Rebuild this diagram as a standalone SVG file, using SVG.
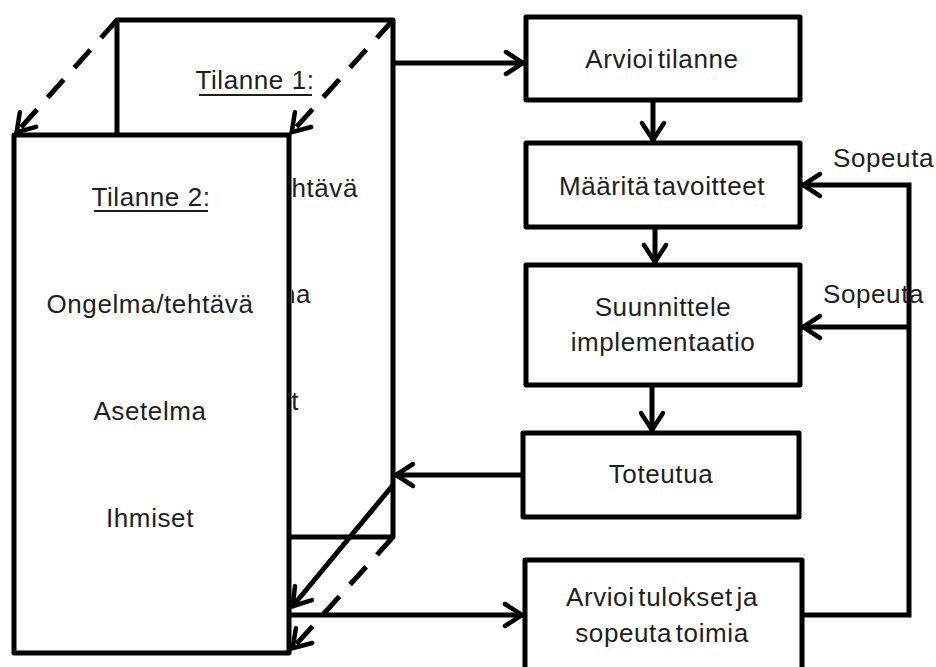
<svg xmlns="http://www.w3.org/2000/svg" width="936" height="667" viewBox="0 0 936 667">
  <defs>
    <style>
      .box { fill: #fff; stroke: #000; stroke-width: 5; stroke-linejoin: round; }
      .lbl { font-family: "Liberation Sans", Arial, sans-serif; font-size: 26px; fill: #1e1e1e; text-anchor: middle; letter-spacing: 0.6px; }
      .side { text-anchor: start; }
      .tail { text-anchor: end; }
      .uline { stroke: #1e1e1e; stroke-width: 2; }
      .wire { fill: none; stroke: #000; stroke-width: 5; stroke-linejoin: miter; }
      .dash { fill: none; stroke: #000; stroke-width: 5; stroke-dasharray: 24 16; }
    </style>
    <marker id="arrow" markerUnits="userSpaceOnUse" viewBox="-22 -16 26 32" refX="1" refY="0" markerWidth="26" markerHeight="32" orient="auto" overflow="visible">
      <path d="M-17,-11 L0,0 L-17,11" fill="none" stroke="#000" stroke-width="4.5" stroke-linecap="round"/>
    </marker>
    <!-- strip of the rear card left uncovered by the front card -->
    <clipPath id="rear-visible">
      <rect x="292" y="20" width="100" height="517"/>
    </clipPath>
  </defs>

  <rect width="936" height="667" fill="#fff"/>

  <!-- Situation 1 (rear card); only the ends of its lines peek out -->
  <g id="tilanne1">
    <rect class="box" x="117" y="20" width="276" height="517"/>
    <text class="lbl" x="255" y="89">Tilanne 1:</text>
    <line class="uline" x1="199" y1="95" x2="312" y2="95"/>
    <g clip-path="url(#rear-visible)">
      <text class="lbl tail" x="358" y="197">htävä</text>
      <text class="lbl tail" x="311" y="303">na</text>
      <text class="lbl tail" x="299" y="410">t</text>
    </g>
  </g>

  <!-- dashed projection edges between the two cards (top) -->
  <g id="projection-top">
    <line class="dash" x1="117" y1="20" x2="16" y2="133" marker-end="url(#arrow)"/>
    <line class="dash" x1="393" y1="20" x2="291" y2="133" marker-end="url(#arrow)"/>
  </g>

  <!-- Situation 2 (front card) -->
  <g id="tilanne2">
    <rect class="box" x="14" y="135" width="275" height="518"/>
    <text class="lbl" x="151" y="206">Tilanne 2:</text>
    <line class="uline" x1="94" y1="211" x2="208" y2="211"/>
    <text class="lbl" x="150" y="313">Ongelma/tehtävä</text>
    <text class="lbl" x="150" y="420">Asetelma</text>
    <text class="lbl" x="150" y="527">Ihmiset</text>
  </g>

  <!-- process steps -->
  <g id="arvioi-tilanne">
    <rect class="box" x="526" y="17" width="274" height="83"/>
    <text class="lbl" x="662" y="68" word-spacing="-4">Arvioi tilanne</text>
  </g>
  <g id="maarita-tavoitteet">
    <rect class="box" x="526" y="143" width="274" height="84"/>
    <text class="lbl" x="662" y="195" word-spacing="-4">Määritä tavoitteet</text>
  </g>
  <g id="suunnittele">
    <rect class="box" x="526" y="265" width="274" height="120"/>
    <text class="lbl" x="663" y="316">Suunnittele</text>
    <text class="lbl" x="663" y="351">implementaatio</text>
  </g>
  <g id="toteutua">
    <rect class="box" x="523" y="433" width="276" height="84"/>
    <text class="lbl" x="661" y="483">Toteutua</text>
  </g>
  <g id="arvioi-tulokset">
    <rect class="box" x="525" y="560" width="277" height="115"/>
    <text class="lbl" x="662" y="606" word-spacing="-4">Arvioi tulokset ja</text>
    <text class="lbl" x="662" y="642" word-spacing="-4">sopeuta toimia</text>
  </g>

  <!-- connectors -->
  <g id="connectors">
    <line class="wire" x1="393" y1="63" x2="524" y2="63" marker-end="url(#arrow)"/>
    <line class="wire" x1="653" y1="100" x2="653" y2="141" marker-end="url(#arrow)"/>
    <line class="wire" x1="655" y1="227" x2="655" y2="263" marker-end="url(#arrow)"/>
    <line class="wire" x1="652" y1="385" x2="652" y2="431" marker-end="url(#arrow)"/>
    <line class="wire" x1="523" y1="475" x2="395" y2="475" marker-end="url(#arrow)"/>
    <line class="wire" x1="393" y1="485" x2="292" y2="607" marker-end="url(#arrow)"/>
    <line class="dash" x1="393" y1="537" x2="292" y2="649" marker-end="url(#arrow)"/>
    <line class="wire" x1="289" y1="615" x2="523" y2="615" marker-end="url(#arrow)"/>
    <path class="wire" d="M802,615 H909 V185 H802" marker-end="url(#arrow)"/>
    <line class="wire" x1="909" y1="327" x2="802" y2="327" marker-end="url(#arrow)"/>
    <text class="lbl side" x="833" y="167">Sopeuta</text>
    <text class="lbl side" x="823" y="303">Sopeuta</text>
  </g>
</svg>
